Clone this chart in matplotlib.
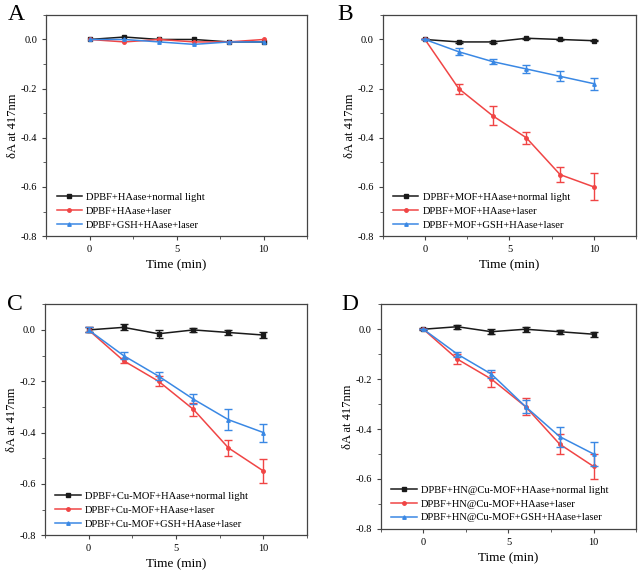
import matplotlib
matplotlib.use("Agg")
import matplotlib.pyplot as plt
from matplotlib.lines import Line2D
from matplotlib.ticker import MultipleLocator

plt.rcParams['font.family'] = ['Liberation Serif', 'DejaVu Serif']

time = [0, 2, 4, 6, 8, 10]

# panel A
a_normal = [0, 0.01, 0, 0, -0.01, -0.01]
a_laser = [0, -0.01, 0, -0.01, -0.01, 0]
a_gsh = [0, 0, -0.01, -0.02, -0.01, -0.01]
a_labels = ["DPBF+HAase+normal light", "DPBF+HAase+laser", "DPBF+GSH+HAase+laser"]

# panel B
b_normal = [0, -0.01, -0.01, 0.005, 0, -0.005]
b_normal_err = [0, 0.003, 0.003, 0.003, 0.003, 0.003]
b_laser = [0, -0.20, -0.31, -0.40, -0.55, -0.60]
b_laser_err = [0, 0.02, 0.04, 0.025, 0.03, 0.055]
b_gsh = [0, -0.05, -0.09, -0.12, -0.15, -0.18]
b_gsh_err = [0, 0.015, 0.01, 0.015, 0.02, 0.025]
b_labels = ["DPBF+MOF+HAase+normal light", "DPBF+MOF+HAase+laser", "DPBF+MOF+GSH+HAase+laser"]

# panel C
c_normal = [0, 0.01, -0.015, 0, -0.01, -0.02]
c_normal_err = [0.01, 0.012, 0.015, 0.008, 0.01, 0.01]
c_laser = [0, -0.12, -0.20, -0.31, -0.46, -0.55]
c_laser_err = [0.01, 0.01, 0.02, 0.025, 0.03, 0.045]
c_gsh = [0, -0.10, -0.18, -0.27, -0.35, -0.40]
c_gsh_err = [0.01, 0.012, 0.015, 0.02, 0.04, 0.035]
c_labels = ["DPBF+Cu-MOF+HAase+normal light", "DPBF+Cu-MOF+HAase+laser", "DPBF+Cu-MOF+GSH+HAase+laser"]

# panel D
d_normal = [0, 0.01, -0.01, 0, -0.01, -0.02]
d_normal_err = [0.003, 0.008, 0.01, 0.01, 0.008, 0.01]
d_laser = [0, -0.12, -0.20, -0.31, -0.46, -0.55]
d_laser_err = [0, 0.02, 0.03, 0.035, 0.04, 0.05]
d_gsh = [0, -0.10, -0.18, -0.31, -0.43, -0.50]
d_gsh_err = [0, 0.01, 0.015, 0.025, 0.04, 0.05]
d_labels = ["DPBF+HN@Cu-MOF+HAase+normal light", "DPBF+HN@Cu-MOF+HAase+laser",
            "DPBF+HN@Cu-MOF+GSH+HAase+laser"]

BLACK = '#1a1a1a'
RED = '#f04545'
BLUE = '#3a88e4'
AXIS = '#444444'


def draw_panel(ax, letter, letter_x, series, labels):
    colors = [BLACK, RED, BLUE]
    markers = ['s', 'o', '^']
    handles = []
    for (y, err), lab, c, m in zip(series, labels, colors, markers):
        if err is not None:
            ax.errorbar(time, y, yerr=err, fmt='none', ecolor=c, elinewidth=1.0,
                        capsize=2.6, capthick=1.0)
        ax.plot(time, y, color=c, marker=m, markersize=2.5, linewidth=1.1)
        handles.append(Line2D([], [], color=c, marker=m, markersize=2.5, linewidth=1.1, label=lab))
    ax.set_xlim(-2.5, 12.5)
    ax.set_ylim(-0.8, 0.1)
    ax.xaxis.set_major_locator(MultipleLocator(5))
    ax.xaxis.set_minor_locator(MultipleLocator(2.5))
    ax.yaxis.set_major_locator(MultipleLocator(0.2))
    ax.yaxis.set_minor_locator(MultipleLocator(0.1))
    ax.yaxis.set_major_formatter(plt.FuncFormatter(lambda v, p: f"{v:.1f}"))
    ax.tick_params(which='major', length=3, width=0.8, labelsize=7.5, color=AXIS)
    ax.tick_params(which='minor', length=2, width=0.6, color=AXIS)
    for s in ax.spines.values():
        s.set_linewidth(0.9)
        s.set_color(AXIS)
    ax.set_xlabel("Time (min)", fontsize=9.5)
    ax.set_ylabel("δA at 417nm", fontsize=9, labelpad=1)
    ax.legend(handles=handles, loc='lower left', frameon=False, fontsize=7.6,
              handlelength=2.4, handletextpad=0.4, labelspacing=0.42,
              borderaxespad=0.1, bbox_to_anchor=(0.02, 0.005))
    ax.text(letter_x, 1.0, letter, transform=ax.transAxes, fontsize=17, va='center', ha='left')


fig = plt.figure(figsize=(6.4, 5.73), dpi=100)
ax_a = fig.add_axes([0.072, 0.588, 0.408, 0.386])
ax_b = fig.add_axes([0.598, 0.588, 0.396, 0.386])
ax_c = fig.add_axes([0.070, 0.066, 0.410, 0.403])
ax_d = fig.add_axes([0.595, 0.077, 0.399, 0.392])

draw_panel(ax_a, "A", -0.145, [(a_normal, None), (a_laser, None), (a_gsh, None)], a_labels)
draw_panel(ax_b, "B", -0.18, [(b_normal, b_normal_err), (b_laser, b_laser_err), (b_gsh, b_gsh_err)], b_labels)
draw_panel(ax_c, "C", -0.145, [(c_normal, c_normal_err), (c_laser, c_laser_err), (c_gsh, c_gsh_err)], c_labels)
draw_panel(ax_d, "D", -0.153, [(d_normal, d_normal_err), (d_laser, d_laser_err), (d_gsh, d_gsh_err)], d_labels)

fig.savefig("out.png", dpi=100)
